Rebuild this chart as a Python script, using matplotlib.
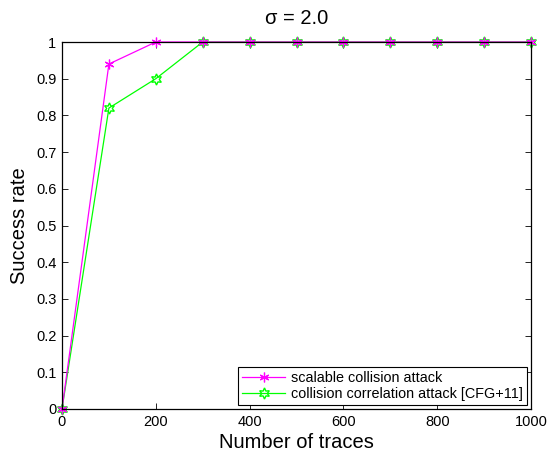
import matplotlib
matplotlib.use("Agg")
import matplotlib.pyplot as plt
import numpy as np

plt.rcParams['font.family'] = ['Liberation Sans', 'DejaVu Sans']

traces = [0, 100, 200, 300, 400, 500, 600, 700, 800, 900, 1000]
scalable = [0, 0.94, 1, 1, 1, 1, 1, 1, 1, 1, 1]
correlation = [0, 0.82, 0.90, 1, 1, 1, 1, 1, 1, 1, 1]
xticks = [0, 200, 400, 600, 800, 1000]
yticks = [0, 0.1, 0.2, 0.3, 0.4, 0.5, 0.6, 0.7, 0.8, 0.9, 1]
ytick_labels = ['0', '0.1', '0.2', '0.3', '0.4', '0.5', '0.6', '0.7', '0.8', '0.9', '1']

fig = plt.figure(figsize=(5.47, 4.51), dpi=100)
ax = fig.add_axes([62/547, 1 - 409/451, (531-62)/547, (409-42)/451])

ax.plot(traces, correlation, color='#00ff00', lw=0.9, marker=(6, 1, 0), ms=8,
        mfc='none', mec='#00ff00', mew=1.0, label='collision correlation attack [CFG+11]',
        zorder=3, clip_on=False)
ax.plot(traces, scalable, color='#ff00ff', lw=0.9, marker=(6, 2, 0), ms=7,
        mec='#ff00ff', mew=0.9, label='scalable collision attack', zorder=4, clip_on=False)

ax.set_xlim(0, 1000)
ax.set_ylim(0, 1)
ax.set_xticks(xticks)
ax.set_xticklabels([str(x) for x in xticks])
ax.set_yticks(yticks)
ax.set_yticklabels(ytick_labels)
ax.tick_params(direction='in', top=True, right=True, labelsize=10.5, length=4, width=0.6, pad=4)
for s in ax.spines.values():
    s.set_linewidth(0.9)
    s.set_color('black')
    s.set_zorder(5)

ax.set_xlabel('Number of traces', fontsize=14.5, labelpad=3)
ax.set_ylabel('Success rate', fontsize=14.5, labelpad=5)
ax.set_title('σ = 2.0', fontsize=14.5, pad=13)

h, l = ax.get_legend_handles_labels()
leg = ax.legend(h[::-1], l[::-1], loc='lower right', fontsize=10.4, frameon=True, fancybox=False,
                edgecolor='black', framealpha=1, borderaxespad=0.3, handlelength=3.0,
                borderpad=0.25, labelspacing=0.15, handletextpad=0.4)
leg.get_frame().set_linewidth(0.8)
leg.set_zorder(6)

fig.savefig('out.png', dpi=100)
